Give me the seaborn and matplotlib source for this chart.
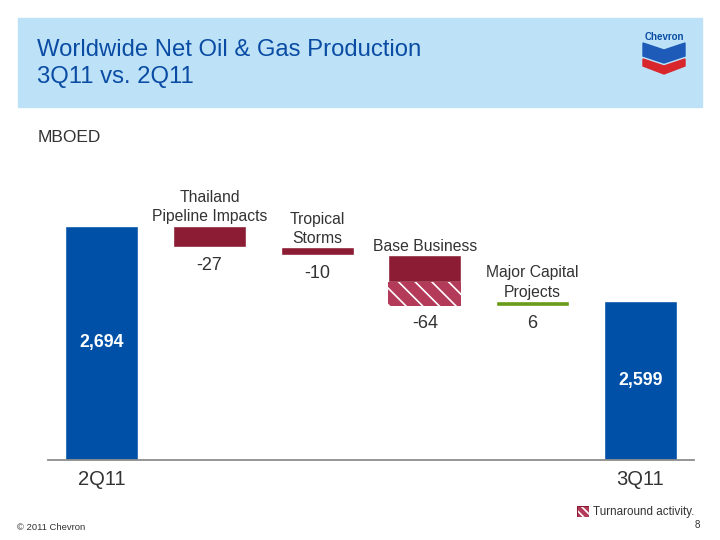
import matplotlib
matplotlib.use("Agg")
import matplotlib.pyplot as plt
import seaborn as sns
import numpy as np
from matplotlib.patches import Rectangle, Polygon

# data (MBOED)
start_label = "2Q11"
end_label = "3Q11"
start_value = 2694
end_value = 2599
step_labels = ["Thailand\nPipeline Impacts", "Tropical\nStorms", "Base Business", "Major Capital\nProjects"]
step_values = [-27, -10, -64, 6]
turnaround_part = 30   # hatched share of the Base Business drop

BLUE = "#0050a8"
RED = "#8c1c34"
RED_LIGHT = "#b33a59"
GREEN = "#6a9b18"
TXT = "#333333"

sns.set_style("white")
plt.rcParams["font.family"] = ["Liberation Sans", "DejaVu Sans"]
plt.rcParams["hatch.linewidth"] = 1.2

W, H = 720, 540
fig = plt.figure(figsize=(7.2, 5.4), dpi=100)

def px_axes(x0, y0, x1, y1):
    return [x0 / W, 1 - y1 / H, (x1 - x0) / W, (y1 - y0) / H]

# header band
fig.patches.append(Rectangle((18 / W, 1 - 107 / H), (702 - 18) / W, (107 - 18) / H,
                             transform=fig.transFigure, color="#bde2f8", zorder=-5))
fig.text(37 / W, 1 - 50 / H, "Worldwide Net Oil & Gas Production", fontsize=17.2,
         color="#0a4ca3", va="center")
fig.text(37 / W, 1 - 77 / H, "3Q11 vs. 2Q11", fontsize=17.2, color="#0a4ca3", va="center")

# simple chevron logo
lax = fig.add_axes(px_axes(636, 28, 692, 78))
lax.set_xlim(636, 692)
lax.set_ylim(78, 28)
lax.axis("off")
lax.text(664, 37, "Chevron", ha="center", va="center", fontsize=7, fontweight="bold", color="#0a4ca3")
lax.add_patch(Polygon([(643, 43), (664, 50), (685, 43), (685, 56), (664, 63), (643, 56)], color="#1e5bb8"))
lax.add_patch(Polygon([(643, 59), (664, 66), (685, 59), (685, 66), (664, 74), (643, 66)], color="#d9262c"))

fig.text(38 / W, 1 - 137 / H, "MBOED", fontsize=12.5, color=TXT, va="center")

# waterfall axes
ax = fig.add_axes(px_axes(48, 150, 694, 460))
sns.despine(ax=ax, left=True, top=True, right=True)
ax.spines["bottom"].set_color("#8c8c8c")
ax.spines["bottom"].set_linewidth(1.3)
ymin = 2397.6
ax.set_ylim(ymin, 2790)
ax.set_xlim(-0.5, 5.5)
ax.set_yticks([])

width = 0.68
ax.bar(0, start_value - ymin, bottom=ymin, width=width, color=BLUE)
ax.bar(5, end_value - ymin, bottom=ymin, width=width, color=BLUE)
ax.text(0, (start_value + ymin) / 2, f"{start_value:,}", ha="center", va="center",
        color="white", fontsize=12.8, fontweight="bold")
ax.text(5, (end_value + ymin) / 2, f"{end_value:,}", ha="center", va="center",
        color="white", fontsize=12.8, fontweight="bold")

level = start_value
for i, (lab, val) in enumerate(zip(step_labels, step_values), start=1):
    lo, hi = sorted([level, level + val])
    if val > 0:
        ax.bar(i, hi - lo, bottom=lo, width=width, color=GREEN)
    elif lab == "Base Business":
        ax.bar(i, hi - lo - turnaround_part, bottom=lo + turnaround_part, width=width, color=RED)
        ax.bar(i, turnaround_part, bottom=lo, width=width, color=RED_LIGHT,
               edgecolor="white", linewidth=0, hatch="\\\\")
    else:
        ax.bar(i, hi - lo, bottom=lo, width=width, color=RED)
    ax.annotate(lab, (i, hi), xytext=(0, 1), textcoords="offset points", ha="center",
                va="bottom", fontsize=11.3, color=TXT, linespacing=1.35)
    ax.annotate(f"{val}", (i, lo), xytext=(0, -7), textcoords="offset points", ha="center",
                va="top", fontsize=13, color=TXT)
    level += val

ax.set_xticks([0, 5])
ax.set_xticklabels([start_label, end_label], fontsize=14.5, color=TXT)
ax.tick_params(axis="x", length=0, pad=7)

# legend and footer
lg = fig.add_axes(px_axes(577, 506, 589, 517))
lg.set_xlim(0, 1)
lg.set_ylim(0, 1)
lg.axis("off")
lg.add_patch(Rectangle((0, 0), 1, 1, facecolor=RED_LIGHT, edgecolor="white", linewidth=0, hatch="\\\\\\\\"))
lg.add_patch(Rectangle((0, 0), 1, 1, fill=False, edgecolor=RED, linewidth=0.8))
fig.text(593 / W, 1 - 512 / H, "Turnaround activity.", fontsize=8.4, color=TXT, va="center")
fig.text(17 / W, 1 - 528 / H, "\u00a9 2011 Chevron", fontsize=6.8, color=TXT, va="center")
fig.text(700 / W, 1 - 525 / H, "8", fontsize=7, color=TXT, va="center", ha="right")

fig.savefig("out.png", dpi=100)
